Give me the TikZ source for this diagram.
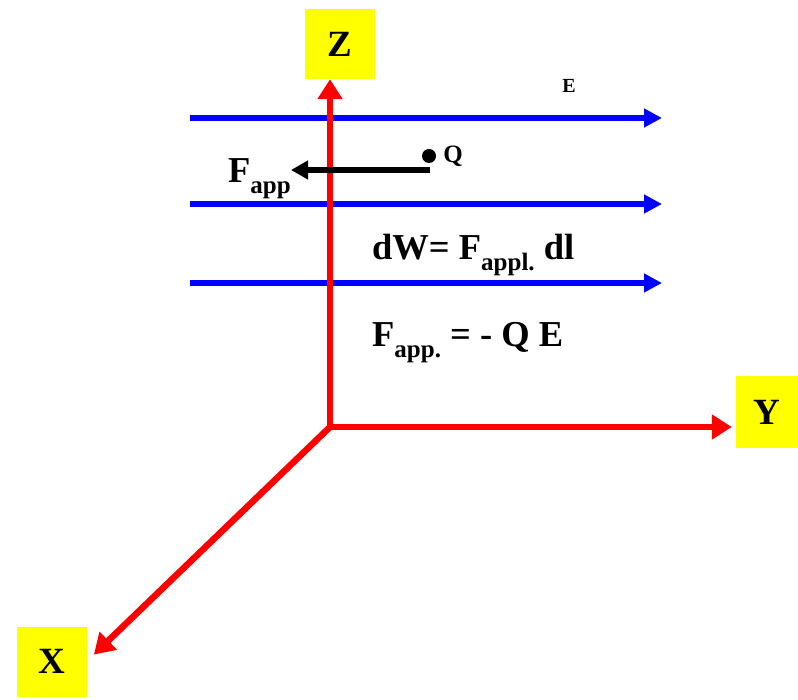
\documentclass[tikz,border=0pt]{standalone}
\usepackage{fontspec}
\setmainfont{Liberation Serif}
\usetikzlibrary{arrows.meta}
\definecolor{axisred}{RGB}{255, 0, 0}
\definecolor{fieldblue}{RGB}{0, 0, 255}
\definecolor{boxyellow}{RGB}{255, 255, 0}
\newcommand{\lowsub}[1]{\raisebox{-0.3em}{\fontsize{25}{25}\selectfont #1}}

\tikzset{
    axis/.style={line width=6.5pt, axisred, -{Triangle[length=20pt, width=24pt]}},
    fieldline/.style={line width=5.5pt, fieldblue, -{Triangle[length=18pt, width=18pt]}},
    force/.style={line width=5.5pt, black, -{Triangle[length=17pt, width=18pt]}},
    axisbox/.style={fill=boxyellow, minimum size=70pt, inner sep=0pt, font=\fontsize{37}{37}\selectfont\bfseries},
    bigtext/.style={inner sep=0pt, font=\fontsize{36.5}{40}\selectfont\bfseries}
}

\begin{document}
\begin{tikzpicture}[x=1pt, y=-1pt]
    \useasboundingbox (0,0) rectangle (798,700);

    % Axis labels
    \node[axisbox] (zbox) at (340,44) {Z};
    \node[axisbox, minimum width=62pt, minimum height=71pt] (ybox) at (767,412) {Y};
    \node[axisbox] (xbox) at (51.5,661.5) {X};

    % Field lines
    \foreach \y/\name in {118/one, 204/two, 283/three} {
        \coordinate (\name start) at (190,\y);
        \coordinate (\name end) at (662,\y);
        \draw[fieldline] (\name start) -- (\name end);
    }
    \node[font=\fontsize{20}{20}\selectfont\bfseries] (elabel) at (569,86) {E};

    % Axes
    \coordinate (O) at (330,427);
    \draw[axis] (O) -- (O |- zbox.south);
    \draw[axis] (O) -- ([xshift=-4pt]ybox.west |- O);
    \draw[axis, shorten >=10pt] (O) -- (xbox.east);

    % Charge and applied force
    \node[circle, fill=black, inner sep=0pt, minimum size=14pt] (q) at (429,156) {};
    \node[anchor=west, inner sep=0pt, font=\fontsize{25}{25}\selectfont\bfseries] (qlabel) at ([xshift=7pt]q.east) {Q};
    \coordinate (fstart) at (430,170);
    \node[bigtext, anchor=base west] (fapp) at (228,183) {F\lowsub{app}};
    \draw[force] (fstart) -- (fapp.east |- fstart);

    % Equations
    \node[bigtext, anchor=base west] (dw) at (372,260) {dW= F\lowsub{appl.} dl};
    \node[bigtext, anchor=base west] (fq) at (372,347) {F\lowsub{app.} = - Q E};
\end{tikzpicture}
\end{document}
